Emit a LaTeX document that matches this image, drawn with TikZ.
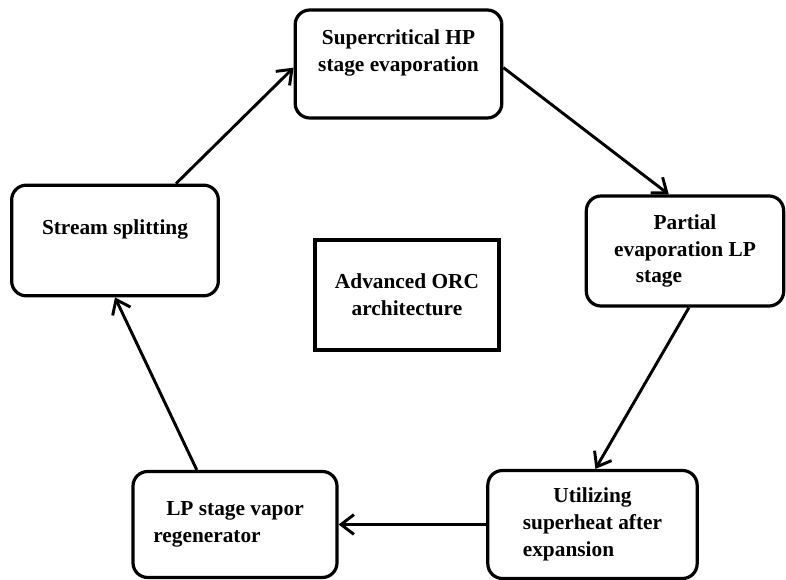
\documentclass[tikz,border=0pt]{standalone}
\usepackage{fontspec}
\setmainfont{Liberation Serif}
\usetikzlibrary{arrows.meta}
\tikzset{
  stage box/.style={draw,rounded corners=11pt,line width=2.4pt,minimum width=155pt,minimum height=81pt,inner sep=0pt,align=center,font=\fontsize{16}{20}\selectfont\bfseries},
  core box/.style={stage box,sharp corners,minimum width=138pt,minimum height=82.5pt},
  cycle edge/.style={-{Straight Barb[length=3.4mm,width=5.2mm]},line width=2.2pt},
}

\begin{document}
\begin{tikzpicture}[x=0.75pt,y=-0.75pt]
  \useasboundingbox (0,0) rectangle (786,580);
  \node[stage box] (hp) at (398.5,64) {Supercritical HP\\stage evaporation\\ \mbox{}};
  \node[stage box,minimum width=148pt,minimum height=82.5pt] (lp) at (685,251) {Partial\\evaporation LP\\\hspace*{-39pt}stage};
  \node[stage box,minimum width=157pt] (heat) at (592.5,524.5) {Utilizing\\superheat after\\\hspace*{-36pt}expansion};
  \node[stage box,minimum width=153pt,minimum height=79.5pt] (regen) at (235,524.5) {LP stage vapor\\\hspace*{-42pt}regenerator};
  \node[stage box,minimum height=83pt] (split) at (115,240.5) {Stream splitting\\ \mbox{}};
  \node[core box] (orc) at (407,295) {Advanced ORC\\architecture};
  \draw[cycle edge] (split.43) -- (hp.182);
  \draw[cycle edge] (hp.-2) -- (lp.106);
  \draw[cycle edge] (lp.274) -- (heat.87);
  \draw[cycle edge] (heat.west) -- (regen.east);
  \draw[cycle edge] (regen.125) -- (split.south);
\end{tikzpicture}
\end{document}
